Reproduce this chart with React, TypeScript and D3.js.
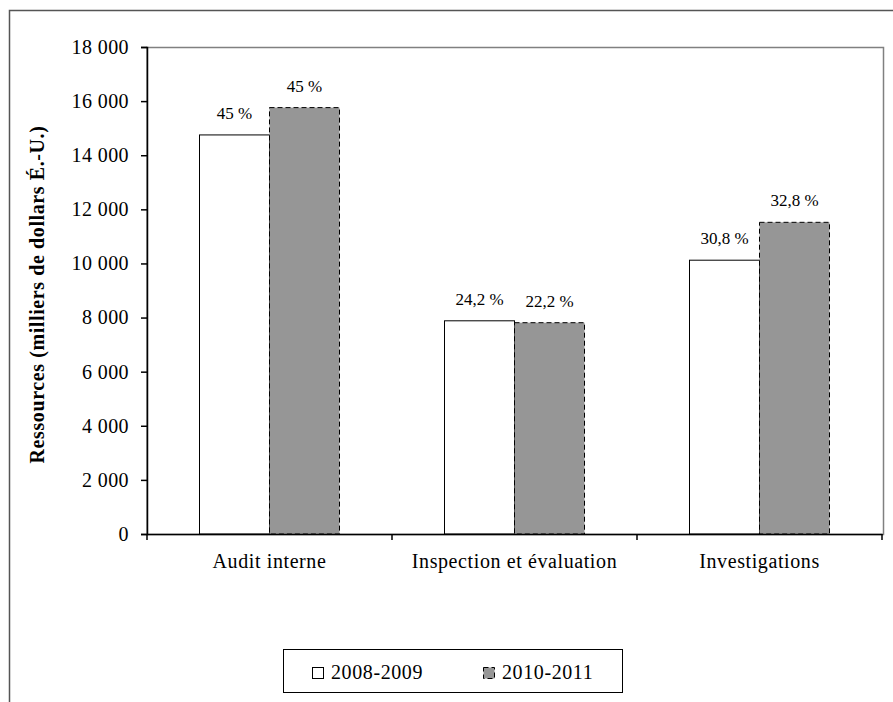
import React, { useEffect, useRef } from "react";
import * as d3 from "d3";

const categories = ["Audit interne", "Inspection et évaluation", "Investigations"];
const seriesNames = ["2008-2009", "2010-2011"];
const values2008 = [14750, 7880, 10120];
const values2010 = [15760, 7810, 11520];
const labels2008 = ["45 %", "24,2 %", "30,8 %"];
const labels2010 = ["45 %", "22,2 %", "32,8 %"];
const yTicks = [0, 2000, 4000, 6000, 8000, 10000, 12000, 14000, 16000, 18000];

const FONT = "'Liberation Serif', 'Times New Roman', serif";

const App = () => {
  const chartRef = useRef<SVGSVGElement>(null);

  useEffect(() => {
    const svg = d3.select(chartRef.current);
    svg.selectAll("*").remove();

    const width = 893;
    const height = 702;
    const plot = { left: 147, right: 882, top: 47, bottom: 534 };

    // outer chart frame (cropped at right/bottom)
    svg
      .append("rect")
      .attr("x", 9.5)
      .attr("y", 10.5)
      .attr("width", width + 20)
      .attr("height", height + 20)
      .attr("fill", "#fff")
      .attr("stroke", "#555")
      .attr("stroke-width", 1.5);

    const x = d3.scaleBand().domain(categories).range([plot.left, plot.right]);
    const x1 = d3
      .scaleBand()
      .domain(seriesNames)
      .range([0, x.bandwidth()])
      .paddingInner(0)
      .paddingOuter(0.75);
    const y = d3.scaleLinear().domain([0, 18000]).range([plot.bottom, plot.top]);

    // plot area border
    svg
      .append("rect")
      .attr("x", plot.left)
      .attr("y", plot.top + 0.5)
      .attr("width", plot.right - plot.left + 1.5)
      .attr("height", plot.bottom - plot.top)
      .attr("fill", "none")
      .attr("stroke", "#808080")
      .attr("stroke-width", 1.5);

    const rows = categories.map((c, i) => ({
      cat: c,
      vals: [
        { s: seriesNames[0], v: values2008[i], label: labels2008[i] },
        { s: seriesNames[1], v: values2010[i], label: labels2010[i] },
      ],
    }));

    const g = svg
      .selectAll(".cat")
      .data(rows)
      .enter()
      .append("g")
      .attr("transform", (d) => `translate(${x(d.cat)},0)`);

    g.selectAll("rect")
      .data((d) => d.vals)
      .enter()
      .append("rect")
      .attr("x", (d) => x1(d.s)!)
      .attr("y", (d) => y(d.v))
      .attr("width", x1.bandwidth())
      .attr("height", (d) => y(0) - y(d.v))
      .attr("fill", (d, i) => (i === 0 ? "#fff" : "#969696"))
      .attr("stroke", "#000")
      .attr("stroke-width", 1)
      .attr("stroke-dasharray", (d, i) => (i === 0 ? null : "5,3"));

    g.selectAll("text")
      .data((d) => d.vals)
      .enter()
      .append("text")
      .attr("x", (d) => x1(d.s)! + x1.bandwidth() / 2)
      .attr("y", (d) => y(d.v) - 16)
      .attr("text-anchor", "middle")
      .style("font-family", FONT)
      .style("font-size", "17px")
      .text((d) => d.label);

    // y axis
    const fmt = (v: number) => d3.format(",")(v).replace(/,/g, " ");
    const yAxis = svg
      .append("g")
      .attr("transform", `translate(${plot.left},0)`)
      .call(d3.axisLeft(y).tickValues(yTicks).tickSize(6).tickPadding(12).tickFormat(fmt as any));
    yAxis.select(".domain").attr("stroke", "#000").attr("stroke-width", 1.5);
    yAxis.selectAll(".tick line").attr("stroke", "#000").attr("stroke-width", 1.5);
    yAxis
      .selectAll("text")
      .style("font-family", FONT)
      .style("font-size", "20px")
      .style("letter-spacing", "0.4px")
      .attr("fill", "#000");

    // x axis
    const xAxis = svg
      .append("g")
      .attr("transform", `translate(0,${plot.bottom})`)
      .call(d3.axisBottom(x).tickSize(0).tickPadding(20));
    xAxis.select(".domain").attr("stroke", "#000").attr("stroke-width", 1.5);
    xAxis
      .selectAll("text")
      .style("font-family", FONT)
      .style("font-size", "20px")
      .style("letter-spacing", "0.6px")
      .attr("fill", "#000");

    // category separator ticks
    svg
      .selectAll(".sep")
      .data(categories.map((c) => x(c)!).concat([plot.right]))
      .enter()
      .append("line")
      .attr("x1", (d) => d)
      .attr("x2", (d) => d)
      .attr("y1", plot.bottom)
      .attr("y2", plot.bottom + 6)
      .attr("stroke", "#000")
      .attr("stroke-width", 1.5);

    // y axis title
    svg
      .append("text")
      .attr("transform", `translate(44,${(plot.top + plot.bottom) / 2 + 4}) rotate(-90)`)
      .attr("text-anchor", "middle")
      .style("font-family", FONT)
      .style("font-size", "20px")
      .style("letter-spacing", "0.6px")
      .style("font-weight", "bold")
      .text("Ressources (milliers de dollars É.-U.)");

    // legend
    const legend = svg.append("g");
    legend
      .append("rect")
      .attr("x", 283.5)
      .attr("y", 649.5)
      .attr("width", 339)
      .attr("height", 43)
      .attr("fill", "#fff")
      .attr("stroke", "#000")
      .attr("stroke-width", 1);

    const legendX = [312, 483];
    seriesNames.forEach((s, i) => {
      legend
        .append("rect")
        .attr("x", legendX[i] + 0.5)
        .attr("y", 667.5)
        .attr("width", 11)
        .attr("height", 11)
        .attr("fill", i === 0 ? "#fff" : "#969696")
        .attr("stroke", "#000")
        .attr("stroke-width", 1)
        .attr("stroke-dasharray", i === 0 ? null : "5,3");
      legend
        .append("text")
        .attr("x", legendX[i] + 19)
        .attr("y", 679)
        .style("font-family", FONT)
        .style("font-size", "20px")
        .style("letter-spacing", "0.6px")
        .text(s);
    });
  }, []);

  return (
    <svg
      ref={chartRef}
      width={893}
      height={702}
      style={{ position: "absolute", left: 0, top: 0 }}
    ></svg>
  );
};

export default App;
